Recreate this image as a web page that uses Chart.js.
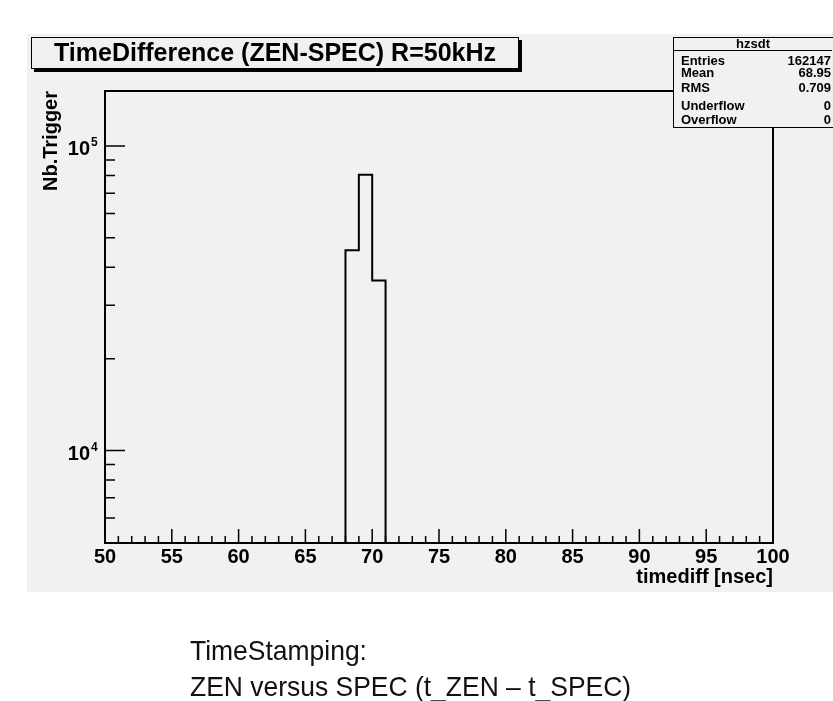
<!DOCTYPE html>
<html>
<head>
<meta charset="utf-8">
<script src="https://cdn.jsdelivr.net/npm/chart.js@4.4.1/dist/chart.umd.min.js"></script>
<style>
  html, body { margin: 0; padding: 0; background: #fff; }
  body { width: 833px; height: 701px; position: relative; overflow: hidden; font-family: "Liberation Sans", Arial, sans-serif; }
  #panel { position: absolute; left: 27px; top: 34px; width: 806px; height: 558px; background: #f1f1f1; }
  #chart { position: absolute; left: 0; top: 0; }
  .box { position: absolute; background: #f1f1f1; border: 1.5px solid #000; box-shadow: 3px 3px 0 #000; box-sizing: border-box; }
  #titlebox { left: 31px; top: 37px; width: 488px; height: 32px; font-weight: bold; font-size: 25px; text-align: center; line-height: 29px; }
  #stats { left: 673px; top: 37px; width: 164px; height: 91px; font-weight: bold; font-size: 13px; box-shadow: none; }
  #stats .hdr { position: absolute; left: 0; right: 4px; top: 0; height: 12px; line-height: 12px; text-align: center; border-bottom: 1.5px solid #000; }
  #stats .row { position: absolute; left: 7px; right: 5px; height: 12px; line-height: 12px; }
  #stats .row span { float: right; }
  .caption { position: absolute; left: 190px; font-size: 28px; line-height: 36px; color: #111; transform: scaleX(0.945); transform-origin: left top; white-space: nowrap; }
</style>
</head>
<body>
<div id="panel"></div>
<canvas id="chart" width="833" height="701"></canvas>
<div id="titlebox" class="box">TimeDifference (ZEN-SPEC) R=50kHz</div>
<div id="stats" class="box"></div>
<div class="caption" style="top:633px">TimeStamping:</div>
<div class="caption" style="top:669px">ZEN versus SPEC (t_ZEN – t_SPEC)</div>
<script>
// histogram hzsdt: bin edges in nsec and entries per bin
const binEdges = [68, 69, 70, 71];
const binCounts = [45500, 80500, 36150];

const xMin = 50, xMax = 100;
const yMin = 4970, yMax = 151600;
const xLabelTicks = [50, 55, 60, 65, 70, 75, 80, 85, 90, 95, 100];
const yTickValues = [6000, 7000, 8000, 9000, 10000, 20000, 30000, 40000, 50000, 60000, 70000, 80000, 90000, 100000];

const statNames = ['Entries', 'Mean', 'RMS', 'Underflow', 'Overflow'];
const statValues = ['162147', '68.95', '0.709', '0', '0'];

// stats box
const stats = document.getElementById('stats');
stats.innerHTML = '<div class="hdr">hzsdt</div>';
const rowTops = [17, 29, 44, 62, 76];
statNames.forEach((n, i) => {
  const d = document.createElement('div');
  d.className = 'row';
  d.style.top = rowTops[i] + 'px';
  d.innerHTML = n + '<span>' + statValues[i] + '</span>';
  stats.appendChild(d);
});

// outline of the histogram, built from the bins
const outline = [{x: binEdges[0], y: yMin}];
binCounts.forEach((c, i) => {
  outline.push({x: binEdges[i], y: c});
  outline.push({x: binEdges[i + 1], y: c});
});
outline.push({x: binEdges[binEdges.length - 1], y: yMin});

const minorX = [];
for (let v = xMin; v <= xMax; v++) minorX.push(v);

const boldFont = {family: '"Liberation Sans", Arial, sans-serif', size: 20, weight: 'bold'};

const isDecade = v => Math.abs(Math.log10(v) - Math.round(Math.log10(v))) < 1e-9;

// ROOT style frame, ticks drawn inside, and 10^n labels
const rootFrame = {
  id: 'rootFrame',
  afterDraw(chart) {
    const {ctx, chartArea: a, scales: {x, y}} = chart;
    ctx.save();
    ctx.strokeStyle = '#000';
    ctx.lineWidth = 2;
    ctx.strokeRect(a.left, a.top, a.right - a.left, a.bottom - a.top);
    ctx.lineWidth = 1.5;
    ctx.beginPath();
    minorX.forEach(v => {
      const px = x.getPixelForValue(v);
      const len = xLabelTicks.includes(v) ? 14 : 7;
      ctx.moveTo(px, a.bottom);
      ctx.lineTo(px, a.bottom - len);
    });
    y.ticks.forEach(t => {
      const py = y.getPixelForValue(t.value);
      const len = isDecade(t.value) ? 20 : 10;
      ctx.moveTo(a.left, py);
      ctx.lineTo(a.left + len, py);
    });
    ctx.stroke();

    ctx.fillStyle = '#000';
    ctx.textBaseline = 'alphabetic';
    y.ticks.forEach(t => {
      if (!isDecade(t.value)) return;
      const py = y.getPixelForValue(t.value);
      ctx.font = 'bold 20px "Liberation Sans", Arial, sans-serif';
      ctx.textAlign = 'right';
      ctx.fillText('10', a.left - 15, py + 9);
      ctx.font = 'bold 12px "Liberation Sans", Arial, sans-serif';
      ctx.textAlign = 'left';
      ctx.fillText(String(Math.round(Math.log10(t.value))), a.left - 14, py);
    });
    ctx.restore();
  }
};

new Chart(document.getElementById('chart'), {
  type: 'line',
  data: {
    datasets: [{
      data: outline,
      borderColor: '#000',
      borderWidth: 2,
      pointRadius: 0,
      fill: false,
      tension: 0
    }]
  },
  options: {
    responsive: false,
    animation: false,
    devicePixelRatio: 1,
    layout: {padding: {left: 30, right: 60, top: 91, bottom: 108}},
    plugins: {legend: {display: false}, tooltip: {enabled: false}},
    scales: {
      x: {
        type: 'linear',
        min: xMin,
        max: xMax,
        afterBuildTicks: s => { s.ticks = minorX.map(v => ({value: v})); },
        afterFit: s => { s.height = 50; },
        grid: {display: false, drawTicks: false},
        border: {display: false},
        ticks: {
          autoSkip: false,
          maxRotation: 0,
          padding: 2,
          color: '#000',
          font: boldFont,
          callback: v => xLabelTicks.includes(v) ? String(v) : ''
        },
        title: {display: true, text: 'timediff [nsec]', align: 'end', color: '#000', font: boldFont, padding: {top: 0, bottom: 4}}
      },
      y: {
        type: 'logarithmic',
        min: yMin,
        max: yMax,
        afterBuildTicks: s => { s.ticks = yTickValues.map(v => ({value: v})); },
        afterFit: s => { s.width = 75; },
        grid: {display: false, drawTicks: false},
        border: {display: false},
        ticks: {display: false},
        title: {display: true, text: 'Nb.Trigger', align: 'end', color: '#000', font: boldFont, padding: {top: 9, bottom: 0}}
      }
    }
  },
  plugins: [rootFrame]
});
</script>
</body>
</html>
